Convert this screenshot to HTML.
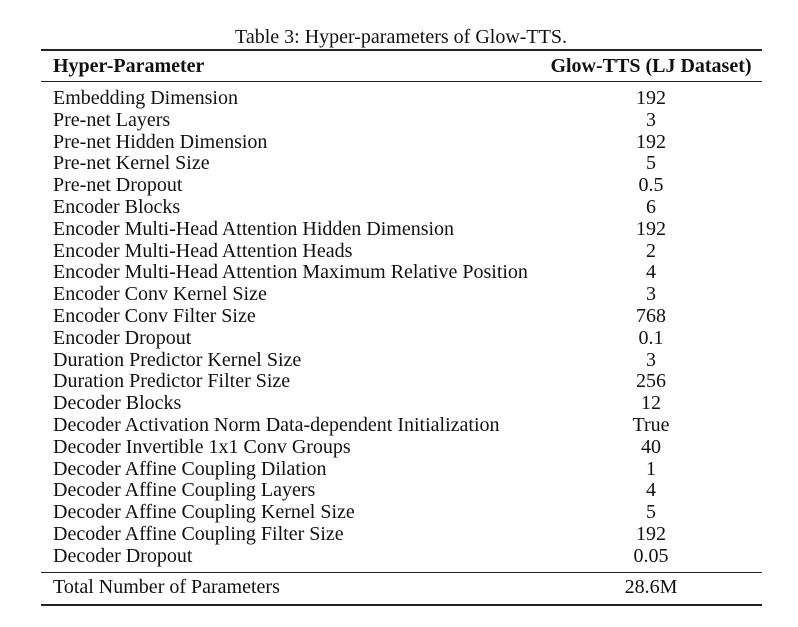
<!DOCTYPE html>
<html><head><meta charset="utf-8"><style>
body{margin:0;width:798px;height:627px;background:#fff;position:relative;font-family:"Liberation Serif",serif;color:#111;font-size:20px;overflow:hidden}
.t{position:absolute;white-space:nowrap;line-height:22px}
.l{left:53px}
.v{left:590px;width:122px;text-align:center}
.r{position:absolute;left:41px;width:721px;background:#222}
</style></head><body>
<div class="t" style="left:0;width:802px;text-align:center;top:26px">Table 3: Hyper-parameters of Glow-TTS.</div>
<div class="r" style="top:49px;height:2px"></div>
<div class="t l" style="top:55px;font-weight:bold">Hyper-Parameter</div>
<div class="t" style="left:530px;width:242px;text-align:center;top:55px;font-weight:bold">Glow-TTS (LJ Dataset)</div>
<div class="r" style="top:81px;height:1px"></div>
<div class="r" style="top:572px;height:1px"></div>
<div class="t l" style="top:576px">Total Number of Parameters</div>
<div class="t v" style="top:576px">28.6M</div>
<div class="r" style="top:604px;height:2px"></div>
<div class="t l" style="top:87px">Embedding Dimension</div><div class="t v" style="top:87px">192</div>
<div class="t l" style="top:108.8px">Pre-net Layers</div><div class="t v" style="top:108.8px">3</div>
<div class="t l" style="top:130.6px">Pre-net Hidden Dimension</div><div class="t v" style="top:130.6px">192</div>
<div class="t l" style="top:152.4px">Pre-net Kernel Size</div><div class="t v" style="top:152.4px">5</div>
<div class="t l" style="top:174.2px">Pre-net Dropout</div><div class="t v" style="top:174.2px">0.5</div>
<div class="t l" style="top:196px">Encoder Blocks</div><div class="t v" style="top:196px">6</div>
<div class="t l" style="top:217.8px">Encoder Multi-Head Attention Hidden Dimension</div><div class="t v" style="top:217.8px">192</div>
<div class="t l" style="top:239.6px">Encoder Multi-Head Attention Heads</div><div class="t v" style="top:239.6px">2</div>
<div class="t l" style="top:261.4px">Encoder Multi-Head Attention Maximum Relative Position</div><div class="t v" style="top:261.4px">4</div>
<div class="t l" style="top:283.2px">Encoder Conv Kernel Size</div><div class="t v" style="top:283.2px">3</div>
<div class="t l" style="top:305px">Encoder Conv Filter Size</div><div class="t v" style="top:305px">768</div>
<div class="t l" style="top:326.8px">Encoder Dropout</div><div class="t v" style="top:326.8px">0.1</div>
<div class="t l" style="top:348.6px">Duration Predictor Kernel Size</div><div class="t v" style="top:348.6px">3</div>
<div class="t l" style="top:370.4px">Duration Predictor Filter Size</div><div class="t v" style="top:370.4px">256</div>
<div class="t l" style="top:392.2px">Decoder Blocks</div><div class="t v" style="top:392.2px">12</div>
<div class="t l" style="top:414px">Decoder Activation Norm Data-dependent Initialization</div><div class="t v" style="top:414px">True</div>
<div class="t l" style="top:435.8px">Decoder Invertible 1x1 Conv Groups</div><div class="t v" style="top:435.8px">40</div>
<div class="t l" style="top:457.6px">Decoder Affine Coupling Dilation</div><div class="t v" style="top:457.6px">1</div>
<div class="t l" style="top:479.4px">Decoder Affine Coupling Layers</div><div class="t v" style="top:479.4px">4</div>
<div class="t l" style="top:501.2px">Decoder Affine Coupling Kernel Size</div><div class="t v" style="top:501.2px">5</div>
<div class="t l" style="top:523px">Decoder Affine Coupling Filter Size</div><div class="t v" style="top:523px">192</div>
<div class="t l" style="top:544.8px">Decoder Dropout</div><div class="t v" style="top:544.8px">0.05</div>
</body></html>
